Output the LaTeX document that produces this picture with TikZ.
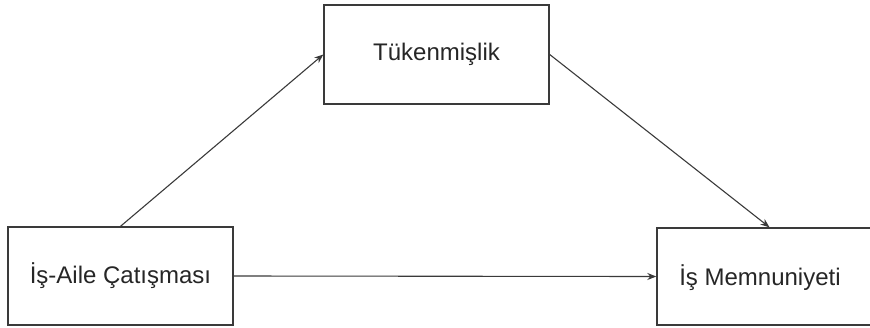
\documentclass[tikz,border=0pt]{standalone}
\usepackage{fontspec}
\setmainfont{Liberation Sans}
\usetikzlibrary{arrows.meta}
\definecolor{linegray}{HTML}{3A3A3A}
\begin{document}
\begin{tikzpicture}[x=1pt,y=-1pt,
  labelfont/.style={font=\fontsize{24}{28}\selectfont,text=black!85},
  boxstyle/.style={draw=linegray,line width=1.4pt,fill=white,minimum width=225pt,minimum height=98pt,inner sep=0pt,labelfont},
  conn/.style={draw=linegray,line width=1.1pt,-{Stealth[length=9pt,width=7pt]}}]
\useasboundingbox (0,0) rectangle (870,327);
\node[boxstyle] (ac) at (120.5,276) {İş-Aile Çatışması};
\node[boxstyle,minimum height=99pt] (tk) at (436.5,54.5) {Tükenmişlik};
\node[boxstyle,minimum height=97pt] (im) at (769.5,276.5) {};
\node[labelfont] (imt) at (760,278) {İş Memnuniyeti};
\draw[conn] (ac.north) -- (tk.west);
\draw[conn] (tk.east) -- (im.north);
\draw[conn] (ac.east) -- (im.west);
\end{tikzpicture}
\end{document}
